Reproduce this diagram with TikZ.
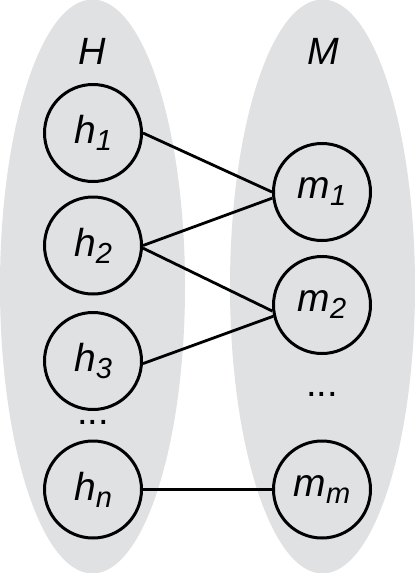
\documentclass[tikz,border=0pt]{standalone}
\usepackage{fontspec}
\setmainfont{Liberation Sans}
\definecolor{setgray}{RGB}{224,225,227}
\newcommand\sbx[1]{\raisebox{-7pt}{\fontsize{29}{29}\selectfont #1}}
\begin{document}
\begin{tikzpicture}[x=1pt,y=-1pt,
  vertex/.style={circle, draw, line width=3pt, minimum size=97pt, inner sep=0pt,
    font=\fontsize{39}{40}\selectfont\itshape},
  setlabel/.style={inner sep=0pt, font=\fontsize{38}{40}\selectfont\itshape},
  dotslabel/.style={inner sep=0pt, font=\fontsize{38}{40}\selectfont},
  edge/.style={line width=2.8pt}]
\useasboundingbox (0,0) rectangle (415,573);
\fill[setgray] (92.5,286.5) ellipse [x radius=92.5, y radius=287];
\fill[setgray] (322.5,286.5) ellipse [x radius=92.5, y radius=287];
\node[setlabel] (H) at (92,51) {H};
\node[setlabel] (M) at (323,51) {M};
\node[vertex] (h1) at (93,133) {h\sbx{1}};
\node[vertex] (h2) at (93,245.5) {h\sbx{2}};
\node[vertex] (h3) at (93,361) {h\sbx{3}};
\node[dotslabel] (hd) at (93,422) {...};
\node[vertex] (hn) at (93,489.5) {h\sbx{n}};
\node[vertex] (m1) at (322,192) {m\sbx{1}};
\node[vertex] (m2) at (322,305) {m\sbx{2}};
\node[dotslabel] (md) at (322,394) {...};
\node[vertex] (mm) at (322,489.5) {m\sbx{m}};
\draw[edge] (h1.east) -- (m1.west);
\draw[edge] (h2.east) -- (m1.187);
\draw[edge] (h2.-3) -- (m2.187);
\draw[edge] (h3.-3) -- (m2.193);
\draw[edge] (hn.east) -- (mm.west);
\end{tikzpicture}
\end{document}
